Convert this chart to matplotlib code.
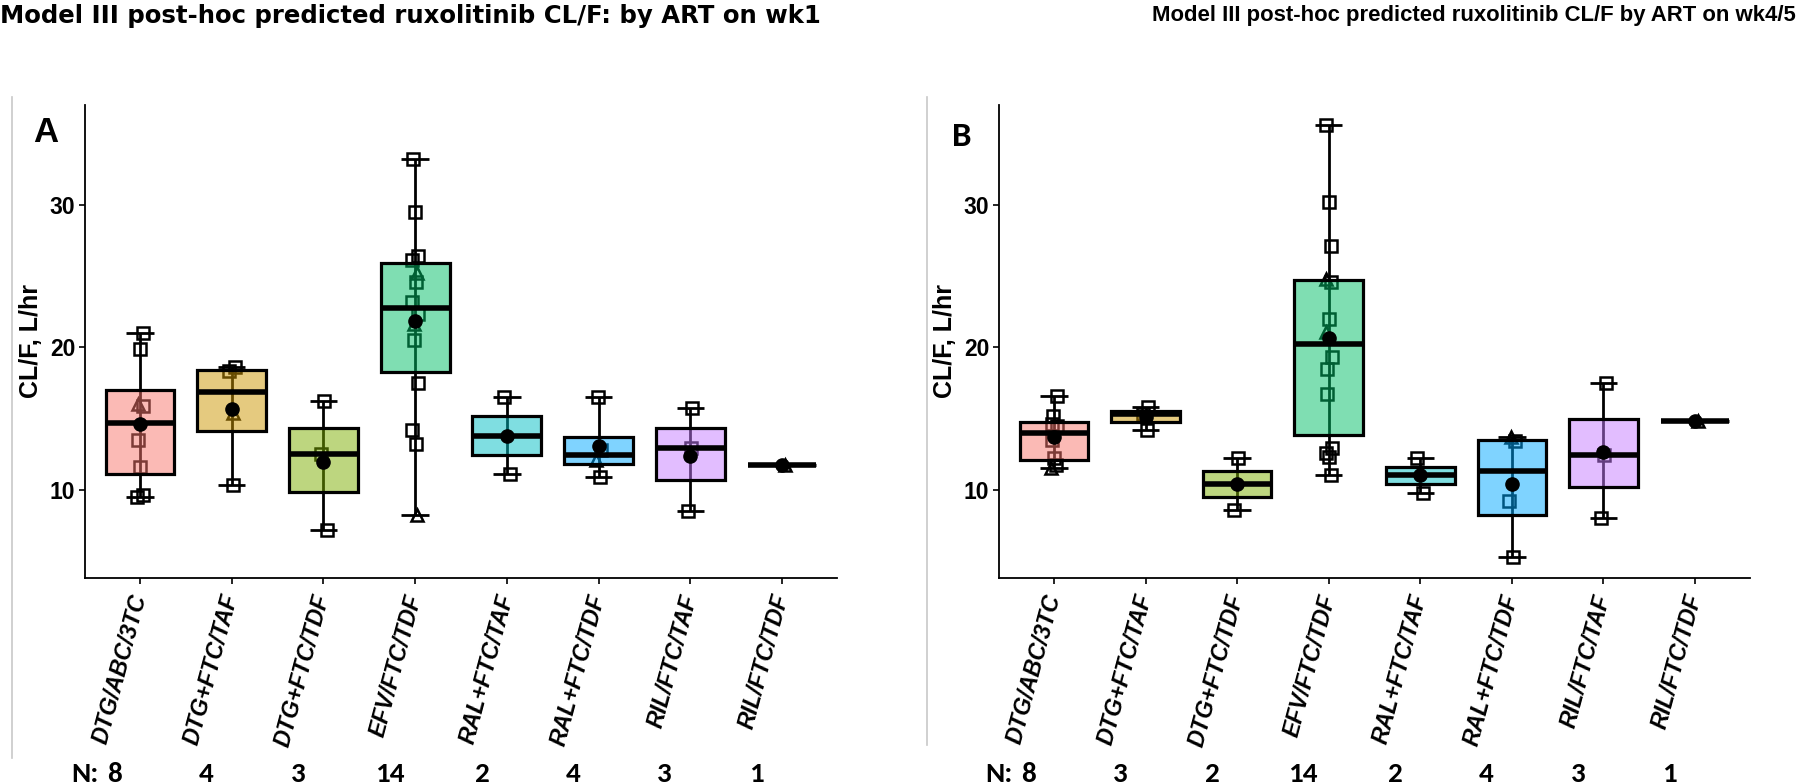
import matplotlib
matplotlib.use('Agg')
import matplotlib.pyplot as plt
import numpy as np
from matplotlib import cbook
from matplotlib.lines import Line2D
from matplotlib.transforms import ScaledTranslation, blended_transform_factory

# ART regimens (x categories) and ggplot hue colours
regimens = ['DTG/ABC/3TC', 'DTG+FTC/TAF', 'DTG+FTC/TDF', 'EFV/FTC/TDF',
            'RAL+FTC/TAF', 'RAL+FTC/TDF', 'RIL/FTC/TAF', 'RIL/FTC/TDF']
hue_cols = ['#F8766D', '#CD9600', '#7CAE00', '#00BE67',
            '#00BFC4', '#00A9FF', '#C77CFF', '#FF61CC']

# post-hoc CL/F (L/hr), week 1 ; shape code: s = square, t = triangle
wk1_cl = [[21.0, 19.9, 16.0, 15.9, 13.5, 11.6, 9.6, 9.5],
          [18.6, 18.3, 15.4, 10.3],
          [16.2, 12.5, 7.2],
          [33.2, 29.5, 26.4, 26.1, 25.2, 24.6, 23.2, 22.3, 21.6, 20.5, 17.5, 14.2, 13.2, 8.2],
          [16.5, 11.1],
          [16.5, 12.8, 12.1, 10.9],
          [15.7, 12.9, 8.5],
          [11.7]]
wk1_shape = ['sstsssss',
             'ssts',
             'sss',
             'sssstsssts' + 'ssst',
             'ss',
             'ssts',
             'sss',
             't']

# week 4/5
wk4_cl = [[16.6, 15.2, 14.6, 14.5, 13.5, 12.2, 11.7, 11.5],
          [15.8, 15.3, 14.2],
          [12.2, 8.6],
          [35.6, 30.2, 27.1, 24.8, 24.6, 22.0, 21.1, 19.3, 18.5, 16.7, 12.9, 12.6, 12.3, 11.0],
          [12.2, 9.8],
          [13.7, 13.4, 9.2, 5.3],
          [17.5, 12.4, 8.0],
          [14.8]]
wk4_shape = ['ssssssst',
             'sss',
             'ss',
             'ssstssts' + 'ssssss',
             'ss',
             'tsss',
             'sss',
             't']

n_wk1 = [8, 4, 3, 14, 2, 4, 3, 1]
n_wk4 = [8, 3, 2, 14, 2, 4, 3, 1]

title_a = 'Model III post-hoc predicted ruxolitinib CL/F: by ART on wk1'
title_b = 'Model III post-hoc predicted ruxolitinib CL/F by ART on wk4/5'

fig = plt.figure(figsize=(18, 7.84), dpi=100)
W, H = 1800.0, 784.0
arial = ['Liberation Sans', 'DejaVu Sans']
nfont = ['Carlito', 'Lato', 'DejaVu Sans']


def panel(rect, data, shapes, nlab, letter, letter_xy, letter_font):
    ax = fig.add_axes(rect)
    pos = np.arange(1, len(regimens) + 1)
    stats = [cbook.boxplot_stats(np.array(v))[0] for v in data]
    # errorbar style whiskers (under everything)
    for p, st in zip(pos, stats):
        ax.vlines(p, st['whislo'], st['whishi'], color='black', lw=2, zorder=1)
        ax.hlines([st['whislo'], st['whishi']], p - 0.15, p + 0.15, color='black', lw=2, zorder=1)
    # points
    for p, vals, sh in zip(pos, data, shapes):
        for k, (v, s) in enumerate(zip(vals, sh)):
            off = 0.035 * np.sin(k * 2.3 + p)
            ax.plot(p + off, v, marker='s' if s == 's' else '^', ms=8.5, mfc='none',
                    mec='black', mew=1.8, ls='none', zorder=2)
    # boxes
    bp = ax.bxp(stats, positions=pos, widths=0.75, patch_artist=True, showcaps=False,
                showfliers=False, whiskerprops=dict(lw=0),
                medianprops=dict(color='black', lw=4, solid_capstyle='butt'),
                boxprops=dict(lw=2.3, edgecolor='black'), zorder=3)
    for patch, c in zip(bp['boxes'], hue_cols):
        patch.set_facecolor(matplotlib.colors.to_rgba(c, 0.5))
    # means
    ax.plot(pos, [np.mean(v) for v in data], 'o', color='black', ms=9.5, zorder=4)

    ax.set_xlim(0.4, 8.6)
    ax.set_ylim(3.8, 37.0)
    ax.set_yticks([10, 20, 30])
    ax.set_xticks(pos)
    ax.set_xticklabels(regimens, rotation=75, ha='right', va='center', rotation_mode='anchor',
                       fontsize=16.5, fontweight='bold', fontstyle='italic', family=arial)
    for lbl in ax.get_xticklabels():
        lbl.set_transform(lbl.get_transform() + ScaledTranslation(0.09, 0, fig.dpi_scale_trans))
    for lbl in ax.get_yticklabels():
        lbl.set_fontsize(16.5)
        lbl.set_fontweight('bold')
        lbl.set_family(arial)
    ax.tick_params(axis='x', length=4, width=1.2, pad=8)
    ax.tick_params(axis='y', length=4, width=1.2, pad=3)
    for sp in ['top', 'right']:
        ax.spines[sp].set_visible(False)
    for sp in ['left', 'bottom']:
        ax.spines[sp].set_linewidth(1.3)
    ax.set_ylabel('CL/F, L/hr', fontsize=18, fontweight='bold', family=arial)
    ax.yaxis.set_label_coords(-0.056, 0.5)

    fig.text(letter_xy[0], letter_xy[1], letter, fontsize=25, fontweight='bold',
             family=letter_font, ha='center', va='center')

    tr = blended_transform_factory(ax.transData, fig.transFigure)
    for p, n in zip(pos, nlab):
        fig.text(p - 0.28, 2.5 / H, str(n), transform=tr, ha='center', va='baseline',
                 fontsize=21, fontweight='bold', family=nfont)
    fig.text(pos[0] - 0.45, 2.5 / H, 'N:', transform=tr, ha='right', va='baseline',
             fontsize=21, fontweight='bold', family=nfont)
    return ax


ax_a = panel([85 / W, 1 - 578 / H, 752 / W, 473 / H], wk1_cl, wk1_shape, n_wk1,
             'A', (46 / W, 1 - 132 / H), arial)
ax_b = panel([999 / W, 1 - 578 / H, 751 / W, 473 / H], wk4_cl, wk4_shape, n_wk4,
             'B', (962 / W, 1 - 136 / H), nfont)

# titles
fig.text(0.0, 1 - 4 / H, title_a, fontsize=17.6, fontweight='bold', family=['DejaVu Sans'],
         ha='left', va='top')
fig.text(1152 / W, 1 - 5 / H, title_b, fontsize=15.9, fontweight='bold',
         family=arial, ha='left', va='top')

# thin grey separators
fig.add_artist(Line2D([12 / W, 12 / W], [1 - 97 / H, 1 - 758 / H], color='#c8c8c8', lw=1.2))
fig.add_artist(Line2D([927 / W, 927 / W], [1 - 97 / H, 1 - 745 / H], color='#c8c8c8', lw=1.2))

fig.savefig('out.png', dpi=100)
